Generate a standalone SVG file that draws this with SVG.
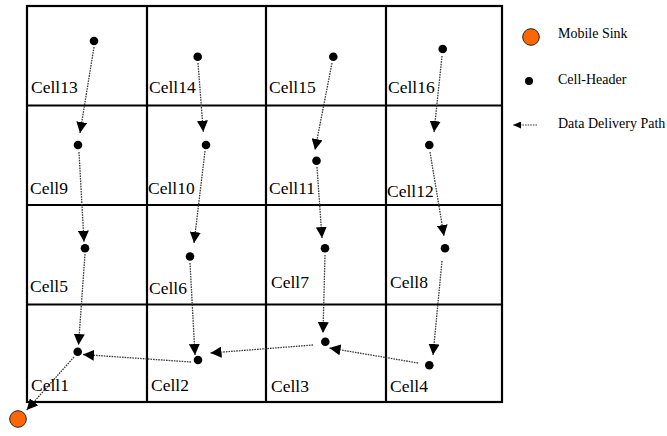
<svg xmlns="http://www.w3.org/2000/svg" width="667" height="436" viewBox="0 0 667 436">
<style>
.grid{fill:none;stroke:#000;stroke-width:2.2}
.lbl{font-family:"Liberation Serif","Times New Roman",serif;font-size:17.5px;fill:#000}
.leg{font-family:"Liberation Serif","Times New Roman",serif;font-size:14px;fill:#000}
.hd{fill:#000}
.sink{fill:#FF6600;stroke:#222;stroke-width:1}
.path{stroke:#3a3a3a;stroke-width:1.3;stroke-dasharray:1.6,1;fill:none;marker-end:url(#ah)}
</style>
<defs>
<marker id="ah" markerUnits="userSpaceOnUse" markerWidth="11" markerHeight="11" refX="10" refY="5" orient="auto" viewBox="0 0 10 10">
<path d="M0,0 L10,5 L0,10 z" fill="#000"/>
</marker>
<marker id="ahs" markerUnits="userSpaceOnUse" markerWidth="9" markerHeight="7" refX="8" refY="3.5" orient="auto" viewBox="0 0 8 7">
<path d="M0,0 L8,3.5 L0,7 z" fill="#000"/>
</marker>
</defs>
<g id="grid">
<rect class="grid" x="27" y="6" width="475" height="396"/>
<line class="grid" x1="147" y1="6" x2="147" y2="402"/>
<line class="grid" x1="266" y1="6" x2="266" y2="402"/>
<line class="grid" x1="386" y1="6" x2="386" y2="402"/>
<line class="grid" x1="27" y1="105.5" x2="502" y2="105.5"/>
<line class="grid" x1="27" y1="205" x2="502" y2="205"/>
<line class="grid" x1="27" y1="304.5" x2="502" y2="304.5"/>
</g>
<g id="connectors">
<line class="path" x1="94" y1="47" x2="80" y2="133"/>
<line class="path" x1="198" y1="63" x2="203.3" y2="131.7"/>
<line class="path" x1="332" y1="63" x2="315" y2="150"/>
<line class="path" x1="442" y1="56" x2="434" y2="132"/>
<line class="path" x1="79" y1="152" x2="84" y2="241.7"/>
<line class="path" x1="205" y1="151" x2="194" y2="243"/>
<line class="path" x1="317" y1="167" x2="322" y2="238"/>
<line class="path" x1="430" y1="152" x2="444" y2="236"/>
<line class="path" x1="85" y1="254" x2="78.5" y2="345"/>
<line class="path" x1="190" y1="263" x2="195" y2="355"/>
<line class="path" x1="325" y1="255" x2="323" y2="333"/>
<line class="path" x1="442" y1="261" x2="433" y2="355"/>
<line class="path" x1="191" y1="362" x2="83" y2="354.5"/>
<line class="path" x1="313" y1="345" x2="210.5" y2="353"/>
<line class="path" x1="418" y1="363" x2="329.5" y2="348"/>
<line class="path" x1="74" y1="357" x2="26.7" y2="410"/>
</g>
<g id="cell13"><circle class="hd" cx="94" cy="41" r="4.3"/><text class="lbl" x="31" y="93">Cell13</text></g>
<g id="cell14"><circle class="hd" cx="197.7" cy="56.7" r="4.3"/><text class="lbl" x="149" y="93">Cell14</text></g>
<g id="cell15"><circle class="hd" cx="333.3" cy="56.7" r="4.3"/><text class="lbl" x="269" y="93">Cell15</text></g>
<g id="cell16"><circle class="hd" cx="442.7" cy="49" r="4.3"/><text class="lbl" x="388" y="93">Cell16</text></g>
<g id="cell9"><circle class="hd" cx="78" cy="145" r="4.3"/><text class="lbl" x="30" y="194">Cell9</text></g>
<g id="cell10"><circle class="hd" cx="206" cy="145" r="4.3"/><text class="lbl" x="148" y="194">Cell10</text></g>
<g id="cell11"><circle class="hd" cx="316.5" cy="160.7" r="4.3"/><text class="lbl" x="269" y="194">Cell11</text></g>
<g id="cell12"><circle class="hd" cx="429.3" cy="145" r="4.3"/><text class="lbl" x="387" y="197">Cell12</text></g>
<g id="cell5"><circle class="hd" cx="85" cy="248.3" r="4.3"/><text class="lbl" x="30" y="292">Cell5</text></g>
<g id="cell6"><circle class="hd" cx="190" cy="256.5" r="4.3"/><text class="lbl" x="149" y="294">Cell6</text></g>
<g id="cell7"><circle class="hd" cx="325" cy="248.3" r="4.3"/><text class="lbl" x="271" y="288">Cell7</text></g>
<g id="cell8"><circle class="hd" cx="445" cy="248.3" r="4.3"/><text class="lbl" x="390" y="288">Cell8</text></g>
<g id="cell1"><circle class="hd" cx="77.7" cy="351.7" r="4.3"/><text class="lbl" x="31" y="391">Cell1</text></g>
<g id="cell2"><circle class="hd" cx="198" cy="360" r="4.3"/><text class="lbl" x="151" y="391">Cell2</text></g>
<g id="cell3"><circle class="hd" cx="325.3" cy="341.7" r="4.3"/><text class="lbl" x="271" y="392">Cell3</text></g>
<g id="cell4"><circle class="hd" cx="429.3" cy="365.2" r="4.3"/><text class="lbl" x="390" y="392">Cell4</text></g>
<g id="sink"><circle class="sink" cx="18" cy="419" r="8.3"/></g>
<g id="legend">
<circle class="sink" cx="531" cy="37" r="8.3"/>
<text class="leg" x="558" y="38">Mobile Sink</text>
<circle class="hd" cx="529" cy="81" r="4"/>
<text class="leg" x="558" y="84">Cell-Header</text>
<line x1="537" y1="125" x2="513" y2="125" stroke="#3a3a3a" stroke-width="1.2" stroke-dasharray="1.6,1" marker-end="url(#ahs)"/>
<text class="leg" x="558" y="128">Data Delivery Path</text>
</g>
</svg>
